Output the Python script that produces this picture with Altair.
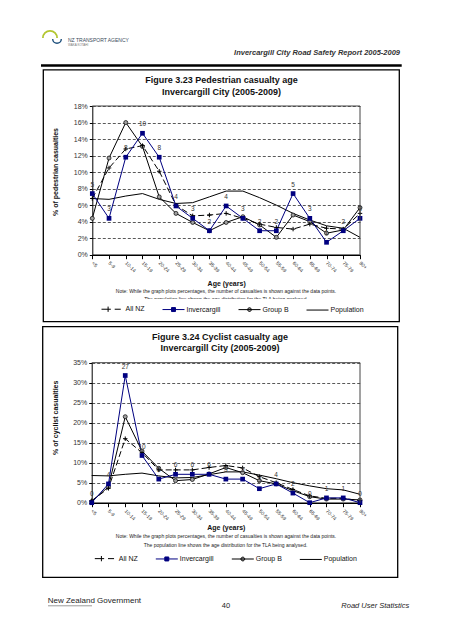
import altair as alt
import pandas as pd

FONT = "Liberation Sans"

categories = ["<5", "5-9", "10-14", "15-19", "20-24", "25-29", "30-34", "35-39", "40-44",
              "45-49", "50-54", "55-59", "60-64", "65-69", "70-74", "75-79", "80+"]
series_names = ["All NZ", "Invercargill", "Group B", "Population"]

# population share of each age band (%)
population = [6.8, 6.7, 7.1, 7.4, 6.7, 6.2, 6.3, 7.0, 7.7, 7.7, 6.9, 6.0, 5.0, 4.2, 3.5, 3.2, 2.1]

# Figure 3.23 pedestrian casualties (%)
ped_all_nz = [6.8, 10.5, 12.8, 13.2, 10.1, 6.0, 4.7, 4.8, 5.0, 4.4, 3.7, 3.3, 3.1, 3.7, 3.2, 3.1, 5.0]
ped_invercargill = [7.4, 4.4, 11.8, 14.7, 11.8, 5.9, 4.4, 2.9, 5.9, 4.4, 2.9, 2.9, 7.4, 4.4, 1.5, 2.9, 4.4]
ped_group_b = [4.4, 11.7, 16.0, 13.1, 7.0, 5.0, 3.9, 2.9, 3.9, 4.6, 3.6, 2.1, 4.8, 4.0, 2.6, 3.0, 5.7]
ped_counts = [5, 3, 8, 10, 8, 4, 3, 2, 4, 3, 2, 2, 5, 3, 1, 2, 3]

# Figure 3.24 cyclist casualties (%)
cyc_all_nz = [0.5, 3.6, 16.0, 12.5, 8.2, 8.2, 8.2, 8.8, 9.3, 8.7, 6.5, 5.0, 3.3, 1.7, 1.1, 1.1, 0.5]
cyc_invercargill = [0.0, 4.7, 31.8, 11.8, 5.9, 7.1, 7.1, 7.1, 5.9, 5.9, 3.5, 4.7, 2.4, 0.0, 1.2, 1.2, 0.0]
cyc_group_b = [0.3, 4.0, 21.5, 12.9, 8.6, 5.5, 5.8, 7.2, 8.8, 7.5, 5.5, 4.7, 3.0, 1.5, 0.9, 0.9, 0.7]
cyc_counts = [0, 4, 27, 10, 5, 6, 6, 6, 5, 5, 3, 4, 2, 0, 1, 1, 0]

ped_ticks = [0, 0.02, 0.04, 0.06, 0.08, 0.10, 0.12, 0.14, 0.16, 0.18]
cyc_ticks = [0, 0.05, 0.10, 0.15, 0.20, 0.25, 0.30, 0.35]

NAVY = "#000080"
legend_paths = [
    "M-1,0H-0.15M-0.4,-0.24V0.24M0.2,0H0.75",
    "M-1,0H1M-0.18,-0.18H0.18V0.18H-0.18Z",
    "M-1,0H1M0.17,0A0.17,0.17,0,1,1,-0.17,0A0.17,0.17,0,1,1,0.17,0",
    "M-1,0H1",
]
legend_fill = ["black", NAVY, "#a0a0a0", "black"]
legend_stroke = ["black", NAVY, "black", "black"]


def make_table(all_nz, inv, grp_b, counts):
    rows = []
    for name, vals in zip(series_names, [all_nz, inv, grp_b, population]):
        for i, c in enumerate(categories):
            rows.append({"cat": c, "idx": i, "series": name, "value": vals[i] / 100,
                         "label": str(counts[i]) if name == "Invercargill" else ""})
    return pd.DataFrame(rows)


def panel(df, ymax, ticks, x_range, y_range, y_title, y_off, x_off,
          yt_x, yt_y, xt_y, leg_x, leg_y):
    x_enc = alt.X("cat:N",
                  scale=alt.Scale(type="point", domain=categories, range=x_range, padding=0),
                  axis=alt.Axis(orient="bottom", offset=x_off, labelAngle=45, labelAlign="left",
                                labelBaseline="middle", labelFontSize=5, labelColor="#333",
                                labelPadding=3, labelOverlap=False, tickSize=4, tickColor="black",
                                domainColor="black", domainWidth=1.6, grid=False,
                                title="Age (years)", titleFontSize=7, titleFontWeight="bold",
                                titleColor="#111", titleY=xt_y, titleBaseline="middle"))
    y_enc = alt.Y("value:Q",
                  scale=alt.Scale(domain=[0, ymax], range=y_range, nice=False, zero=True),
                  axis=alt.Axis(orient="left", offset=y_off, values=ticks, format=".0%",
                                labelFontSize=7, labelColor="#333", labelPadding=2, tickSize=3,
                                tickColor="black", domainColor="black", domainWidth=1,
                                grid=True, gridColor="#111", gridDash=[3, 2], gridWidth=0.7,
                                title=y_title, titleFontSize=7, titleFontWeight="bold",
                                titleColor="#111", titleX=yt_x, titleY=yt_y, titleAngle=270,
                                titleAlign="center", titleBaseline="middle"))
    base = alt.Chart(df).encode(x=x_enc, y=y_enc, order="idx:Q")

    def sel(name):
        return base.transform_filter(alt.datum.series == name)

    pop_line = sel("Population").mark_line(color="black", strokeWidth=1)
    grp_line = sel("Group B").mark_line(color="black", strokeWidth=1)
    nz_line = sel("All NZ").mark_line(color="black", strokeWidth=1, strokeDash=[6, 3])
    inv_line = sel("Invercargill").mark_line(color=NAVY, strokeWidth=1)
    grp_pts = sel("Group B").mark_circle(size=16, color="#a0a0a0", stroke="black",
                                          strokeWidth=0.7, opacity=1)
    nz_pts = sel("All NZ").mark_point(shape="M-1,0H1M0,-1V1", size=20, color="black",
                                      strokeWidth=1, opacity=1, filled=False)
    inv_pts = sel("Invercargill").mark_square(size=22, color=NAVY, opacity=1)
    inv_txt = sel("Invercargill").mark_text(dy=-9, fontSize=6.5, color="#333").encode(text="label:N")

    frame_df = pd.DataFrame({"cat": ["<5", "80+", "80+", "80+"],
                             "value": [ymax, ymax, 0, ymax],
                             "g": [0, 0, 1, 1], "idx": [0, 1, 0, 1]})
    border = alt.Chart(frame_df).mark_line(color="#444", strokeWidth=1).encode(
        x=x_enc, y=y_enc, detail="g:N", order="idx:Q")

    leg = alt.Legend(orient="none", legendX=leg_x, legendY=leg_y, direction="horizontal",
                     columns=4, title=None, symbolSize=484, symbolStrokeWidth=1,
                     labelFontSize=7, labelColor="#111", labelOffset=1.5, columnPadding=15,
                     padding=0)
    legend_layer = alt.Chart(df).transform_filter("false").mark_point(
        filled=True, opacity=1, strokeWidth=1).encode(
        shape=alt.Shape("series:N", scale=alt.Scale(domain=series_names, range=legend_paths), legend=leg),
        fill=alt.Fill("series:N", scale=alt.Scale(domain=series_names, range=legend_fill), legend=leg),
        stroke=alt.Stroke("series:N", scale=alt.Scale(domain=series_names, range=legend_stroke), legend=leg),
    )
    return alt.layer(pop_line, grp_line, nz_line, inv_line, grp_pts, nz_pts, inv_pts, inv_txt,
                     border, legend_layer)


dummy = pd.DataFrame({"k": [0]})


def text(s, x, y, size, weight="normal", style="normal", align="center", color="#111", font=FONT):
    return alt.Chart(dummy).mark_text(text=s, fontSize=size, fontWeight=weight, fontStyle=style,
                                      align=align, baseline="middle", color=color, font=font).encode(
        x=alt.value(x), y=alt.value(y))


def box(x, x2, y, y2, stroke="black", width=1.3, fill="white", fill_opacity=0):
    return alt.Chart(dummy).mark_rect(stroke=stroke, strokeWidth=width, fill=fill,
                                      fillOpacity=fill_opacity).encode(
        x=alt.value(x), x2=alt.value(x2), y=alt.value(y), y2=alt.value(y2))


note1 = "Note: While the graph plots percentages, the number of casualties is shown against the  data points."
note2 = "The population line shows the age distribution for the TLA being analysed."

deco = [
    box(35.3, 391.3, 61.8, 313.7),
    box(34.7, 389.7, 318.7, 569.3),
    alt.Chart(dummy).mark_rule(color="black", strokeWidth=2.4).encode(
        x=alt.value(33), x2=alt.value(393.7), y=alt.value(57.5)),
    text("Invercargill City Road Safety Report 2005-2009", 392, 44.7, 7.5, "bold", "italic",
         "right", "#333"),
    alt.Chart(dummy).mark_arc(theta=4.712, theta2=7.854, radius=8, radius2=6.2,
                              color="#b3c631").encode(x=alt.value(42), y=alt.value(30)),
    alt.Chart(dummy).mark_arc(theta=1.571, theta2=4.712, radius=5, radius2=3.6,
                              color="#1d4f7c").encode(x=alt.value(49), y=alt.value(31)),
    text("NZ TRANSPORT AGENCY", 60, 32, 5, "normal", "normal", "left", "#3a4a5a"),
    text("WAKA KOTAHI", 60, 36.5, 3, "normal", "normal", "left", "#777"),
    text("Figure 3.23 Pedestrian casualty age", 213.5, 72, 9, "bold"),
    text("Invercargill City  (2005-2009)", 213.5, 83.7, 9, "bold"),
    text(note1, 218, 283, 5, color="#222"),
    text(note2, 218, 290.5, 5, color="#222"),
    box(95, 345, 291, 297, stroke="white", width=0, fill="white", fill_opacity=1),
    text("Figure 3.24 Cyclist casualty age", 212, 329.3, 9, "bold"),
    text("Invercargill City  (2005-2009)", 212, 340.3, 9, "bold"),
    text(note1, 218, 527.7, 5, color="#222"),
    text(note2, 217.5, 537, 5, color="#222"),
    text("New Zealand Government", 39.7, 593, 8, "normal", "normal", "left", "#222"),
    alt.Chart(dummy).mark_rule(color="#555", strokeWidth=0.6).encode(
        x=alt.value(40), x2=alt.value(84), y=alt.value(597.8)),
    text("40", 218, 598, 7.5, color="#222"),
    text("Road User Statistics", 401.3, 598, 7.5, "normal", "italic", "right", "#222"),
]

ped = panel(make_table(ped_all_nz, ped_invercargill, ped_group_b, ped_counts), 0.18, ped_ticks,
            [84.3, 352], [246.7, 98], "% of pedestrian casualties", -84.3, 246.7 - 624,
            -37.3, 163.5, 28.6, 93, 289.3)
cyc = panel(make_table(cyc_all_nz, cyc_invercargill, cyc_group_b, cyc_counts), 0.35, cyc_ticks,
            [83.7, 352], [494.7, 354.7], "% of cyclist casualties", -83.7, 494.7 - 624,
            -35.7, 409.3, 25, 86.3, 538.7)

chart = alt.layer(*deco, ped, cyc).resolve_scale(
    x="independent", y="independent", shape="independent", fill="independent", stroke="independent"
).properties(
    width=436, height=624, autosize=alt.AutoSizeParams(type="none"), padding=0
).configure(font=FONT).configure_view(strokeWidth=0)

chart.save("out.html", embed_options={"renderer": "svg", "actions": False})
